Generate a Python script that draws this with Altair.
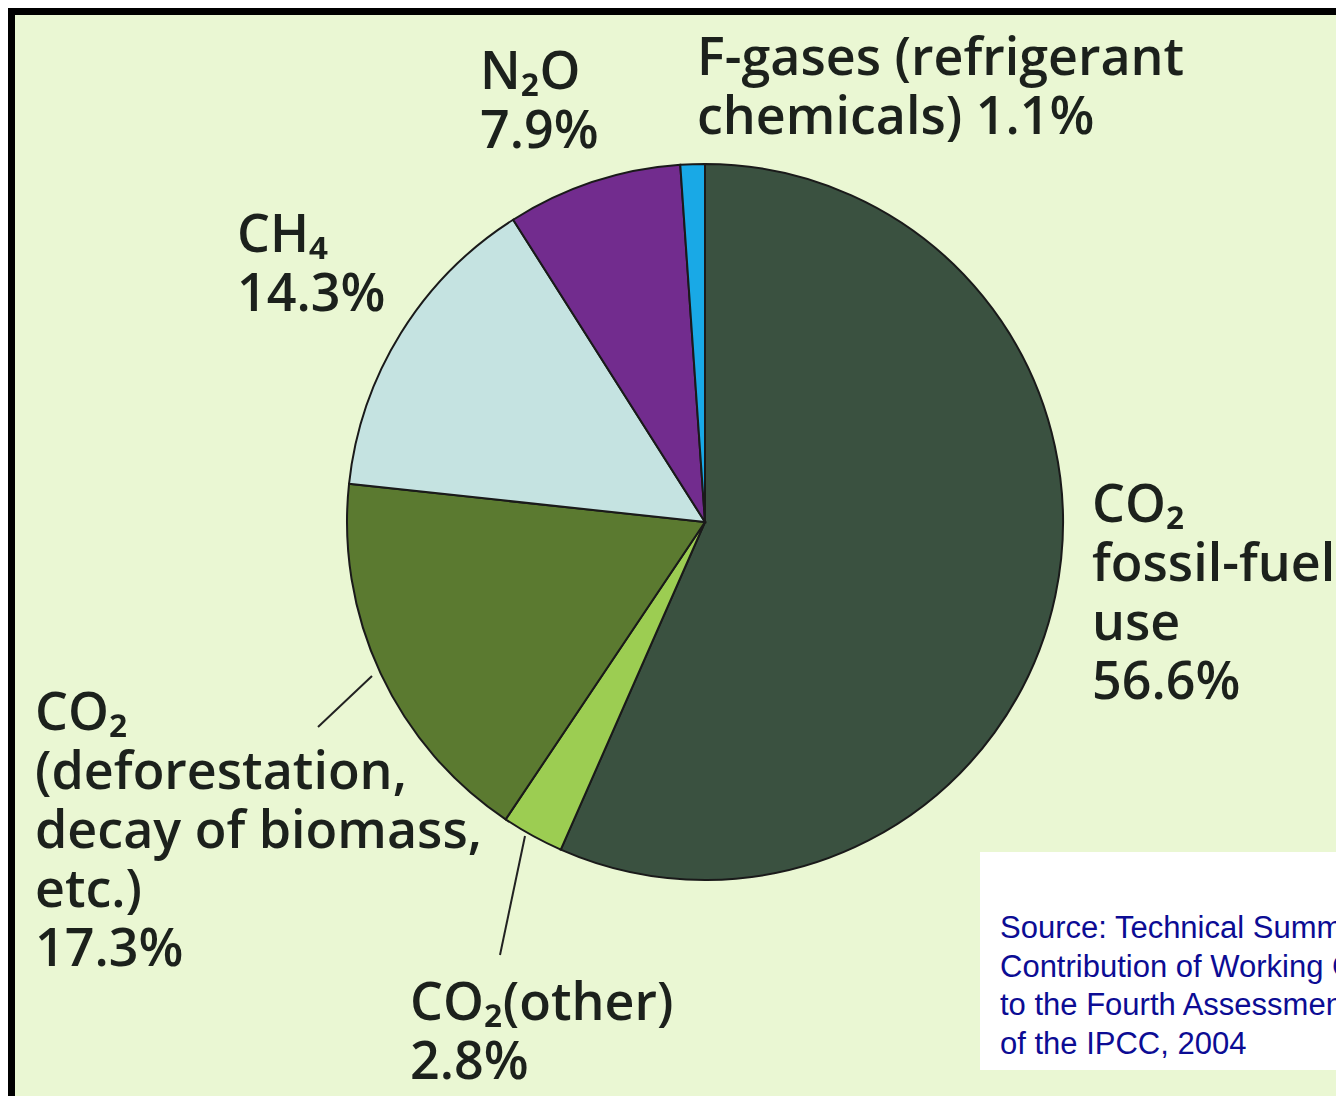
import altair as alt
import pandas as pd

# ---- data ----
categories = ["CO₂ fossil-fuel use", "CO₂ (other)", "CO₂ (deforestation, decay of biomass, etc.)",
              "CH₄", "N₂O", "F-gases (refrigerant chemicals)"]
shares = [56.6, 2.8, 17.3, 14.3, 7.9, 1.1]
colors = ["#3a5140", "#9ccd52", "#5b7a30", "#c5e3e1", "#722c8e", "#19a9e6"]
order = [0, 1, 2, 3, 4, 5]

label_fossil = "CO₂\nfossil-fuel\nuse\n56.6%"
label_other = "CO₂(other)\n2.8%"
label_defor = "CO₂\n(deforestation,\ndecay of biomass,\netc.)\n17.3%"
label_ch4 = "CH₄\n14.3%"
label_n2o = "N₂O\n7.9%"
label_fgas = "F-gases (refrigerant\nchemicals) 1.1%"
source_text = "Source: Technical Summary of the\nContribution of Working Group I\nto the Fourth Assessment Report\nof the IPCC, 2004"

df = pd.DataFrame({"category": categories, "share": shares, "idx": order})
one = pd.DataFrame({"a": [0]})

W, H = 1328, 1088
OFF = 8  # page margin
CX, CY, R = 705 - OFF, 522 - OFF, 358

bg = "#eaf7d3"
ink = "#1c211c"
FONT = "Open Sans"
FS = 52
LH = 59

pie = alt.Chart(df).mark_arc(radius=R, stroke="#1a1a1a", strokeWidth=2).encode(
    theta=alt.Theta("share:Q", stack=True),
    color=alt.Color("category:N", scale=alt.Scale(domain=categories, range=colors), legend=None),
    order=alt.Order("idx:Q"),
    x=alt.value(CX), y=alt.value(CY),
)

def label(text, px, py, size=FS, lh=LH, font=FONT, color=ink, weight=600):
    return alt.Chart(one).mark_text(
        text=text, lineBreak="\n", align="left", baseline="alphabetic",
        font=font, fontSize=size, fontWeight=weight, lineHeight=lh, color=color,
    ).encode(x=alt.value(px - OFF), y=alt.value(py - OFF))

def rect(x1, x2, y1, y2, color):
    return alt.Chart(one).mark_rect(color=color).encode(
        x=alt.value(x1), x2=alt.value(x2), y=alt.value(y1), y2=alt.value(y2))

def line(x1, y1, x2, y2):
    return alt.Chart(one).mark_rule(color="#222222", strokeWidth=2).encode(
        x=alt.value(x1 - OFF), y=alt.value(y1 - OFF), x2=alt.value(x2 - OFF), y2=alt.value(y2 - OFF))

layers = [
    rect(0, 7, 0, H, "#000000"),
    rect(0, W, 0, 7, "#000000"),
    pie,
    line(318, 727, 372, 676),
    line(500, 955, 525, 836),
    label(label_n2o, 480, 89),
    label(label_fgas, 697, 75),
    label(label_ch4, 237, 252),
    label(label_fossil, 1092, 522),
    label(label_defor, 35, 730),
    label(label_other, 410, 1020),
    rect(980 - OFF, W, 852 - OFF, 1070 - OFF, "#ffffff"),
    label(source_text, 1000, 938, size=31, lh=38.5, font="Liberation Sans", color="#0c0c94", weight=400),
]

chart = alt.layer(*layers).properties(
    width=W, height=H, padding=0, autosize=alt.AutoSizeParams(type="none"), background=bg
).configure_view(stroke=None)

chart.save("out.html", embed_options={"renderer": "svg", "actions": False})
